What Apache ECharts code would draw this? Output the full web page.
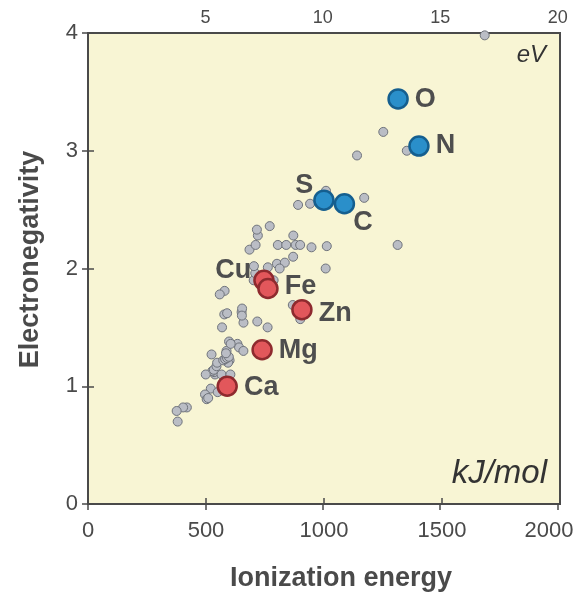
<!DOCTYPE html>
<html>
<head>
<meta charset="utf-8">
<script src="https://cdn.jsdelivr.net/npm/echarts@6/dist/echarts.min.js"></script>
<style>
  html, body { margin: 0; padding: 0; background: #fff; }
  #chart { width: 580px; height: 595px; }
</style>
</head>
<body>
<div id="chart"></div>
<script>
// first ionization energy (kJ/mol) and Pauling electronegativity
const elements = ['H', 'Li', 'Be', 'B', 'C', 'N', 'O', 'F', 'Na', 'Mg', 'Al', 'Si', 'P', 'S', 'Cl',
  'K', 'Ca', 'Sc', 'Ti', 'V', 'Cr', 'Mn', 'Fe', 'Co', 'Ni', 'Cu', 'Zn', 'Ga', 'Ge', 'As', 'Se', 'Br', 'Kr',
  'Rb', 'Sr', 'Y', 'Zr', 'Nb', 'Mo', 'Tc', 'Ru', 'Rh', 'Pd', 'Ag', 'Cd', 'In', 'Sn', 'Sb', 'Te', 'I', 'Xe',
  'Cs', 'Ba', 'La', 'Ce', 'Pr', 'Nd', 'Sm', 'Eu', 'Gd', 'Tb', 'Dy', 'Ho', 'Er', 'Tm', 'Yb', 'Lu',
  'Hf', 'Ta', 'W', 'Re', 'Os', 'Ir', 'Pt', 'Au', 'Hg', 'Tl', 'Pb', 'Bi', 'Po', 'At',
  'Fr', 'Ra', 'Ac', 'Th', 'Pa', 'U', 'Np', 'Pu']
const ionization = [1312, 520.2, 899.5, 800.6, 1086.5, 1402.3, 1313.9, 1681, 495.8, 737.7, 577.5, 786.5, 1011.8, 999.6, 1251.2,
  418.8, 589.8, 633.1, 658.8, 650.9, 652.9, 717.3, 762.5, 760.4, 737.1, 745.5, 906.4, 578.8, 762, 947, 941, 1139.9, 1350.8,
  403, 549.5, 600, 640.1, 652.1, 684.3, 702, 710.2, 719.7, 804.4, 731, 867.8, 558.3, 708.6, 834, 869.3, 1008.4, 1170.4,
  375.7, 502.9, 538.1, 534.4, 527, 533.1, 544.5, 547.1, 593.4, 565.8, 573, 581, 589.3, 596.7, 603.4, 523.5,
  658.5, 761, 770, 760, 840, 880, 870, 890.1, 1007.1, 589.4, 715.6, 703, 812.1, 899,
  380, 509.3, 499, 587, 568, 597.6, 604.5, 584.7]
const electronegativity = [2.20, 0.98, 1.57, 2.04, 2.55, 3.04, 3.44, 3.98, 0.93, 1.31, 1.61, 1.90, 2.19, 2.58, 3.16,
  0.82, 1.00, 1.36, 1.54, 1.63, 1.66, 1.55, 1.83, 1.88, 1.91, 1.90, 1.65, 1.81, 2.01, 2.18, 2.55, 2.96, 3.00,
  0.82, 0.95, 1.22, 1.33, 1.60, 2.16, 1.90, 2.20, 2.28, 2.20, 1.93, 1.69, 1.78, 1.96, 2.05, 2.10, 2.66, 2.60,
  0.79, 0.89, 1.10, 1.12, 1.13, 1.14, 1.17, 1.20, 1.20, 1.10, 1.22, 1.23, 1.24, 1.25, 1.10, 1.27,
  1.30, 1.50, 2.36, 1.90, 2.20, 2.20, 2.28, 2.54, 2.00, 1.62, 2.33, 2.02, 2.00, 2.20,
  0.70, 0.90, 1.10, 1.30, 1.50, 1.38, 1.36, 1.28]

// highlighted elements
const blueElements = ['O', 'N', 'S', 'C']
const redElements = ['Cu', 'Fe', 'Zn', 'Mg', 'Ca']

// label placement for highlighted elements
const labelPlace = {
  O: { position: 'right', offset: [0, 1] },
  N: { position: 'right', offset: [0, 0] },
  S: { position: 'left', offset: [6, -15] },
  C: { position: 'right', offset: [-8, 19] },
  Cu: { position: 'left', offset: [4, -10] },
  Fe: { position: 'right', offset: [0, -2] },
  Zn: { position: 'right', offset: [0, 4] },
  Mg: { position: 'right', offset: [0, 1] },
  Ca: { position: 'right', offset: [0, 1] }
}

// top axis range in eV (as drawn on the reference)
const EV_MAX = 20.1

function pick (names) {
  return names.map(function (n) {
    let i = elements.indexOf(n)
    return {
      name: n,
      value: [ionization[i], electronegativity[i]],
      label: labelPlace[n]
    }
  })
}

let myChart = echarts.init(document.getElementById('chart'))
const axisFont = 'Liberation Sans, Arial, sans-serif'
const tickStyle = { show: true, inside: true, length: 6, lineStyle: { color: '#4a4a4a', width: 1.5 } }
let option = {
  animation: false,
  grid: {
    left: 88,
    right: 20,
    top: 33,
    bottom: 91,
    containLabel: false,
    outerBoundsMode: 'none',
    show: true,
    backgroundColor: '#f8f5d4',
    borderColor: '#4a4a4a',
    borderWidth: 2
  },
  xAxis: [
    {
      type: 'value',
      position: 'bottom',
      min: 0,
      max: 2000,
      interval: 500,
      name: 'Ionization energy',
      nameLocation: 'middle',
      nameGap: 61,
      nameTextStyle: {
        fontFamily: axisFont, fontWeight: 'bold', fontSize: 27, color: '#4a4a4a',
        padding: [0, 0, 0, 34]
      },
      axisLine: { show: false },
      axisTick: tickStyle,
      axisLabel: {
        fontFamily: axisFont,
        fontSize: 22,
        color: '#4a4a4a',
        margin: 16,
        formatter: function (v) { return v === 2000 ? '{r|2000}' : String(v) },
        rich: {
          r: { fontFamily: axisFont, fontSize: 22, color: '#4a4a4a', padding: [0, 22, 0, 0] }
        }
      },
      splitLine: { show: false }
    },
    {
      type: 'value',
      position: 'top',
      min: 0,
      max: EV_MAX,
      interval: 5,
      axisLine: { show: false },
      axisTick: tickStyle,
      axisLabel: {
        fontFamily: axisFont,
        fontSize: 18,
        color: '#4a4a4a',
        margin: 6,
        showMaxLabel: false,
        formatter: function (v) { return (v > 0 && v % 5 === 0) ? String(v) : '' }
      },
      splitLine: { show: false }
    }
  ],
  yAxis: [
    {
      type: 'value',
      position: 'left',
      min: 0,
      max: 4,
      interval: 1,
      name: 'Electronegativity',
      nameLocation: 'middle',
      nameGap: 44,
      nameTextStyle: {
        fontFamily: axisFont, fontWeight: 'bold', fontSize: 27, color: '#4a4a4a',
        padding: [0, 0, 0, 18]
      },
      axisLine: { show: false },
      axisTick: tickStyle,
      axisLabel: { fontFamily: axisFont, fontSize: 22, color: '#4a4a4a', margin: 10 },
      splitLine: { show: false }
    },
    {
      type: 'value',
      position: 'right',
      min: 0,
      max: 4,
      interval: 1,
      axisLine: { show: false },
      axisTick: tickStyle,
      axisLabel: { show: false },
      splitLine: { show: false }
    }
  ],
  graphic: [
    {
      type: 'text',
      right: 34,
      top: 43,
      style: { text: 'eV', fontFamily: axisFont, fontStyle: 'italic', fontSize: 24, fill: '#333' }
    },
    {
      type: 'text',
      right: 33,
      top: 457,
      style: { text: 'kJ/mol', fontFamily: axisFont, fontStyle: 'italic', fontSize: 33, fill: '#333' }
    }
  ],
  series: [
    {
      name: 'elements',
      type: 'scatter',
      clip: false,
      symbolSize: 9,
      itemStyle: { color: '#babdc5', borderColor: '#6f737b', borderWidth: 1, opacity: 1 },
      data: elements.map(function (n, i) { return [ionization[i], electronegativity[i]] }),
      z: 2
    },
    {
      name: 'blue',
      type: 'scatter',
      clip: false,
      symbolSize: 19,
      itemStyle: { color: '#2a8fca', borderColor: '#155f8f', borderWidth: 2.5, opacity: 1 },
      label: {
        show: true,
        formatter: '{b}',
        distance: 6,
        fontFamily: axisFont,
        fontWeight: 'bold',
        fontSize: 27,
        color: '#4e4e4e'
      },
      data: pick(blueElements),
      z: 3
    },
    {
      name: 'red',
      type: 'scatter',
      clip: false,
      symbolSize: 19,
      itemStyle: { color: '#e2575b', borderColor: '#8e2a2e', borderWidth: 2.5, opacity: 1 },
      label: {
        show: true,
        formatter: '{b}',
        distance: 6,
        fontFamily: axisFont,
        fontWeight: 'bold',
        fontSize: 27,
        color: '#4e4e4e'
      },
      data: pick(redElements),
      z: 3
    }
  ]
}
myChart.setOption(option)
</script>
</body>
</html>
